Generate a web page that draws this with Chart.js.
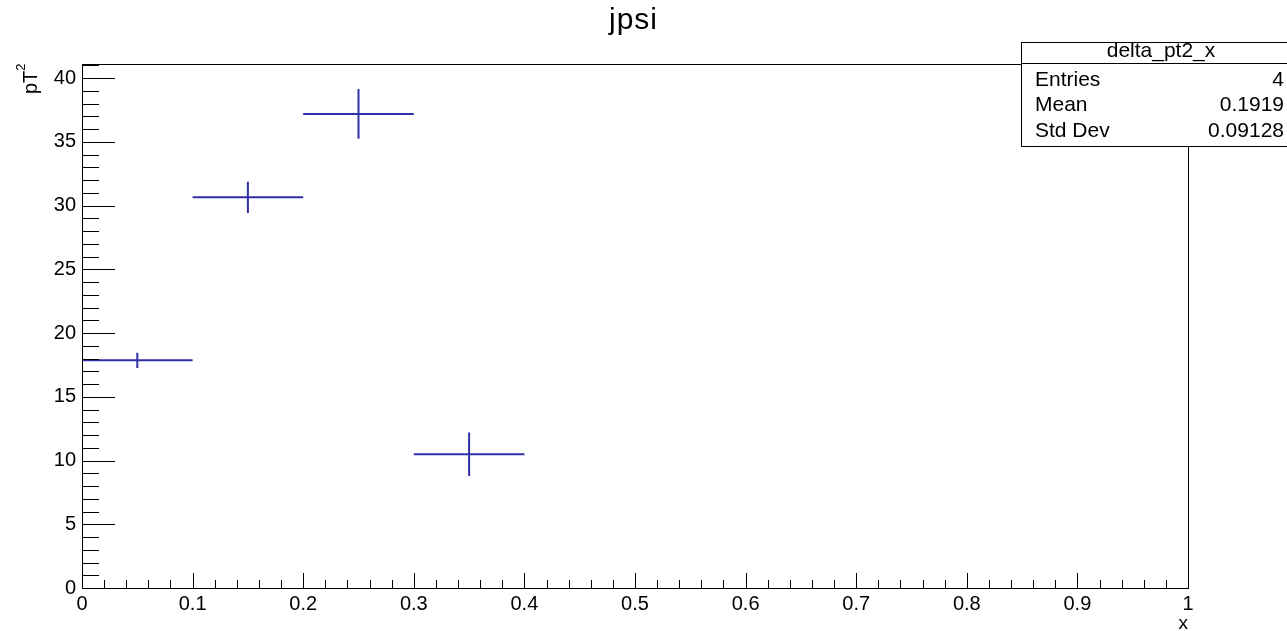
<!DOCTYPE html>
<html>
<head>
<meta charset="utf-8">
<script src="https://cdn.jsdelivr.net/npm/chart.js@4.4.1/dist/chart.umd.min.js"></script>
<style>
body{margin:0;background:#fff;}
#wrap{width:1287px;height:631px;}
</style>
</head>
<body>
<div id="wrap"><canvas id="grafica" width="1287" height="631"></canvas></div>
<script>
// bins of the histogram delta_pt2_x
var binLow=[0,0.1,0.2,0.3];
var binHigh=[0.1,0.2,0.3,0.4];
var binCenter=[0.05,0.15,0.25,0.35];
var valores=[17.86,30.64,37.18,10.49];
var errores=[0.6,1.23,1.95,1.7];
// stats box
var statNombres=["Entries","Mean","Std Dev"];
var statValores=["4","0.1919","0.09128"];
// axis ticks
var xMajor=[0,0.1,0.2,0.3,0.4,0.5,0.6,0.7,0.8,0.9,1];
var yMajor=[0,5,10,15,20,25,30,35,40];

var FUENTE="'Liberation Sans', Arial, sans-serif";
var AZUL="rgb(48,48,168)";

var puntos=new Array();
for(i=0;i<binCenter.length;i++){
	puntos.push({x:binCenter[i],y:valores[i]});
}

var rootPlugin={
	id:'rootStyle',
	beforeDraw:function(chart){
		var ctx=chart.ctx;
		ctx.save();
		ctx.fillStyle="#fff";
		ctx.fillRect(0,0,chart.width,chart.height);
		ctx.restore();
	},
	afterDatasetsDraw:function(chart){
		var ctx=chart.ctx;
		var xs=chart.scales.x, ys=chart.scales.y;
		ctx.save();
		ctx.strokeStyle=AZUL;
		ctx.lineWidth=2;
		for(i=0;i<binCenter.length;i++){
			var py=ys.getPixelForValue(valores[i]);
			var px=xs.getPixelForValue(binCenter[i]);
			ctx.beginPath();
			ctx.moveTo(xs.getPixelForValue(binLow[i]),py);
			ctx.lineTo(xs.getPixelForValue(binHigh[i]),py);
			ctx.moveTo(px,ys.getPixelForValue(valores[i]-errores[i]));
			ctx.lineTo(px,ys.getPixelForValue(valores[i]+errores[i]));
			ctx.stroke();
		}
		ctx.restore();
	},
	afterDraw:function(chart){
		var ctx=chart.ctx;
		var a=chart.chartArea;
		var xs=chart.scales.x, ys=chart.scales.y;
		ctx.save();
		ctx.strokeStyle="#000";
		ctx.lineWidth=1;
		// frame
		ctx.strokeRect(Math.round(a.left)+0.5,Math.round(a.top)+0.5,Math.round(a.right-a.left),Math.round(a.bottom-a.top));
		// y ticks (inside)
		ctx.beginPath();
		for(v=0;v<=41;v++){
			var py=Math.round(ys.getPixelForValue(v))+0.5;
			var len=(v%5==0)?33:17;
			ctx.moveTo(a.left,py);
			ctx.lineTo(a.left+len,py);
		}
		// x ticks (inside)
		for(k=0;k<=50;k++){
			var px=Math.round(xs.getPixelForValue(k*0.02))+0.5;
			var lenx=(k%5==0)?15:8;
			ctx.moveTo(px,a.bottom);
			ctx.lineTo(px,a.bottom-lenx);
		}
		ctx.stroke();

		// title
		ctx.fillStyle="#000";
		ctx.font="30px "+FUENTE;
		ctx.letterSpacing="1px";
		ctx.textAlign="left";
		ctx.textBaseline="alphabetic";
		var tw=ctx.measureText("jpsi").width-1;
		ctx.fillText("jpsi",633-tw/2,29);
		ctx.letterSpacing="0px";

		// x axis title
		ctx.font="19px "+FUENTE;
		ctx.textAlign="right";
		ctx.fillText("x",1188,629);

		// y axis title pT^2
		ctx.save();
		ctx.translate(37,94);
		ctx.rotate(-Math.PI/2);
		ctx.textAlign="left";
		ctx.font="20px "+FUENTE;
		ctx.fillText("pT",0,0);
		var w=ctx.measureText("pT").width;
		ctx.font="13px "+FUENTE;
		ctx.fillText("2",w,-12);
		ctx.restore();

		// stats box
		var bx=1021.5, by=42.5, bw=270, bh=104;
		ctx.fillStyle="#fff";
		ctx.fillRect(bx,by,bw,bh);
		ctx.strokeRect(bx,by,bw,bh);
		ctx.beginPath();
		ctx.moveTo(bx,63.5);
		ctx.lineTo(bx+bw,63.5);
		ctx.stroke();
		ctx.fillStyle="#000";
		ctx.font="21px "+FUENTE;
		ctx.textAlign="center";
		ctx.textBaseline="alphabetic";
		ctx.fillText("delta_pt2_x",1161,57);
		ctx.textBaseline="middle";
		var filas=[80,105,131];
		for(i=0;i<statNombres.length;i++){
			ctx.textAlign="left";
			ctx.fillText(statNombres[i],1035,filas[i]);
			ctx.textAlign="right";
			ctx.fillText(statValores[i],1284,filas[i]);
		}
		ctx.restore();
	}
};

var config={
	type:'scatter',
	data:{
		datasets:[{
			label:"delta_pt2_x",
			data:puntos,
			pointRadius:0,
			borderColor:AZUL,
			backgroundColor:AZUL,
			showLine:false
		}]
	},
	options:{
		responsive:false,
		animation:false,
		layout:{padding:{top:64,right:99,left:0,bottom:0}},
		plugins:{legend:{display:false},tooltip:{enabled:false},title:{display:false}},
		scales:{
			x:{
				type:'linear',min:0,max:1,
				grid:{display:false,drawTicks:false},
				border:{display:false},
				afterFit:function(s){s.height=43;},
				afterBuildTicks:function(s){s.ticks=xMajor.map(function(v){return {value:v};});},
				ticks:{color:"#000",font:{family:FUENTE,size:20},padding:4,maxRotation:0,autoSkip:false,
					callback:function(v){return String(Math.round(v*10)/10);}}
			},
			y:{
				type:'linear',min:0,max:41.1,
				grid:{display:false,drawTicks:false},
				border:{display:false},
				afterFit:function(s){s.width=82;},
				afterBuildTicks:function(s){s.ticks=yMajor.map(function(v){return {value:v};});},
				ticks:{color:"#000",font:{family:FUENTE,size:20},padding:6,autoSkip:false}
			}
		}
	},
	plugins:[rootPlugin]
};

var canvas=document.getElementById("grafica").getContext("2d");
new Chart(canvas,config);
</script>
</body>
</html>
